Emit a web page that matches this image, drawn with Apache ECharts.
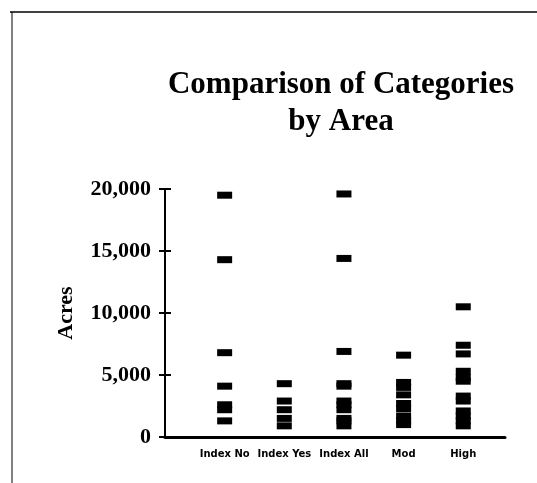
<!DOCTYPE html>
<html>
<head>
<meta charset="utf-8">
<script src="https://cdn.jsdelivr.net/npm/echarts@6/dist/echarts.min.js"></script>
<style>
  html, body { margin: 0; padding: 0; background: #fff; }
  #chart { width: 537px; height: 483px; }
</style>
</head>
<body>
<div id="chart"></div>
<script>
// categories along the bottom
const categories = ['Index No', 'Index Yes', 'Index All', 'Mod', 'High']
// acres (one list per category)
const indexNo = [19500, 14300, 6800, 4100, 2600, 2200, 1300]
const indexYes = [4300, 2900, 2200, 1500, 900]
const indexAll = [19600, 14400, 6900, 4300, 4100, 2900, 2600, 2200, 1500, 1300, 900]
const mod = [6600, 4400, 4000, 3400, 2700, 2300, 1700, 1300, 1000]
const high = [10500, 7400, 6700, 5300, 4800, 4500, 3300, 2900, 2100, 1700, 1300, 900]
const yTickLabels = ['0', '5,000', '10,000', '15,000', '20,000']

const groups = [indexNo, indexYes, indexAll, mod, high]
const points = []
groups.forEach((vals, i) => {
  vals.forEach(v => points.push([i, v]))
})

const chart = echarts.init(document.getElementById('chart'))
chart.setOption({
  animation: false,
  backgroundColor: '#fff',
  title: {
    text: 'Comparison of Categories\nby Area',
    left: 336,
    top: 61,
    textAlign: 'center',
    textStyle: {
      fontFamily: 'Liberation Serif',
      fontWeight: 'bold',
      fontSize: 31,
      lineHeight: 37,
      color: '#000',
    },
  },
  graphic: [
    { type: 'line', shape: { x1: 10, y1: 12, x2: 537, y2: 12 }, style: { stroke: '#000', lineWidth: 1.5 } },
    { type: 'line', shape: { x1: 12, y1: 12, x2: 12, y2: 483 }, style: { stroke: '#000', lineWidth: 1 } },
  ],
  grid: { left: 165, right: 32, top: 189, bottom: 46 },
  xAxis: {
    type: 'value',
    min: -1,
    max: 4.7,
    interval: 1,
    axisLine: { show: true, lineStyle: { color: '#000', width: 3 } },
    axisTick: { show: false },
    splitLine: { show: false },
    axisLabel: {
      margin: 12,
      showMaxLabel: false,
      fontFamily: 'DejaVu Sans',
      fontWeight: 'bold',
      fontSize: 10,
      color: '#000',
      formatter: v => categories[v] || '',
    },
  },
  yAxis: [
    {
      type: 'value',
      min: 0,
      max: 20000,
      interval: 5000,
      name: 'Acres',
      nameLocation: 'middle',
      nameGap: 88,
      nameTextStyle: { fontFamily: 'Liberation Serif', fontWeight: 'bold', fontSize: 22, color: '#000' },
      axisLine: { show: true, onZero: false, lineStyle: { color: '#000', width: 2 } },
      axisTick: { show: false },
      splitLine: { show: false },
      axisLabel: {
        margin: 14,
        fontFamily: 'Liberation Serif',
        fontWeight: 'bold',
        fontSize: 22,
        color: '#000',
        formatter: v => yTickLabels[v / 5000],
      },
    },
    {
      // second copy, shifted 6px into the plot, draws the cross ticks
      type: 'value',
      show: true,
      position: 'left',
      offset: -6,
      min: 0,
      max: 20000,
      interval: 5000,
      axisLine: { show: false, onZero: false },
      axisTick: { show: true, length: 12, lineStyle: { color: '#000', width: 2 } },
      axisLabel: { show: false },
      splitLine: { show: false },
    },
  ],
  series: [
    {
      type: 'scatter',
      data: points,
      symbol: 'rect',
      symbolSize: [15, 7],
      itemStyle: { color: '#000', opacity: 1 },
    },
    {
      // keeps the second y axis in use
      type: 'scatter',
      yAxisIndex: 1,
      data: [],
    },
  ],
})
</script>
</body>
</html>
